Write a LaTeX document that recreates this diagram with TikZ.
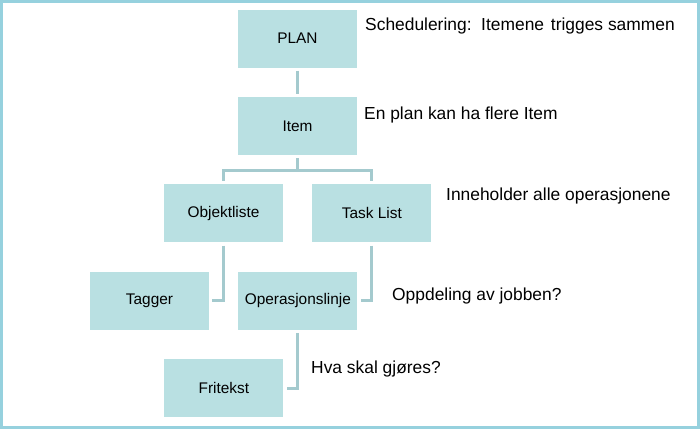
\documentclass[tikz,border=0pt]{standalone}
\usepackage{fontspec}
\setmainfont{Liberation Sans}
\definecolor{frame-blue}{RGB}{150,209,222}
\definecolor{box-blue}{RGB}{185,224,226}
\definecolor{link-blue}{RGB}{164,202,206}
\usetikzlibrary{positioning}

\begin{document}
\begin{tikzpicture}[%
            x=1pt,y=-1pt,
            item box/.style={%
              fill=box-blue,
              minimum width=119pt,
              minimum height=58pt,
              inner sep=0pt,
              font=\fontsize{15.4}{18}\selectfont,
            },
            link/.style={%
              draw=link-blue,
              line width=3pt,
              shorten <=3pt,
              shorten >=3pt,
            },
            note/.style={%
              anchor=base west,
              inner sep=0pt,
              font=\fontsize{17.4}{20}\selectfont,
            }
          ]
            \draw [frame-blue, line width=3pt] (1.5,1.5) rectangle (698.5,427.5);

            \node [item box] (plan) at (297.5,38.5) {PLAN};
            \node [item box, below=29pt of plan] (item) {Item};
            \node [item box, below=29pt of item, xshift=-74pt] (objekt) {Objektliste};
            \node [item box, right=29pt of objekt] (task) {Task List};
            \node [item box, below=29pt of objekt, xshift=-74pt] (tagger) {Tagger};
            \node [item box, right=29pt of tagger] (oper) {Operasjonslinje};
            \node [item box, below=29pt of oper, xshift=-74pt] (fritekst) {Fritekst};

            \draw [link] (plan) -- (item);
            \draw [link] (item.south) -- ++(0,15) -| (objekt.north);
            \draw [link] (item.south) -- ++(0,15) -| (task.north);
            \draw [link] (objekt.south) |- (tagger.east);
            \draw [link] (task.south) |- (oper.east);
            \draw [link] (oper.south) |- (fritekst.east);

            \node [note] (sched note) at (365,30) {Schedulering:\ \ Itemene\hspace{2pt} trigges sammen};
            \node [note] (plan note) at (364,119) {En plan kan ha flere Item};
            \node [note] (task note) at (446,200) {Inneholder alle operasjonene};
            \node [note] (oper note) at (392,300) {Oppdeling av jobben?};
            \node [note] (fritekst note) at (311,373) {Hva skal gjøres?};
          \end{tikzpicture}
\end{document}
